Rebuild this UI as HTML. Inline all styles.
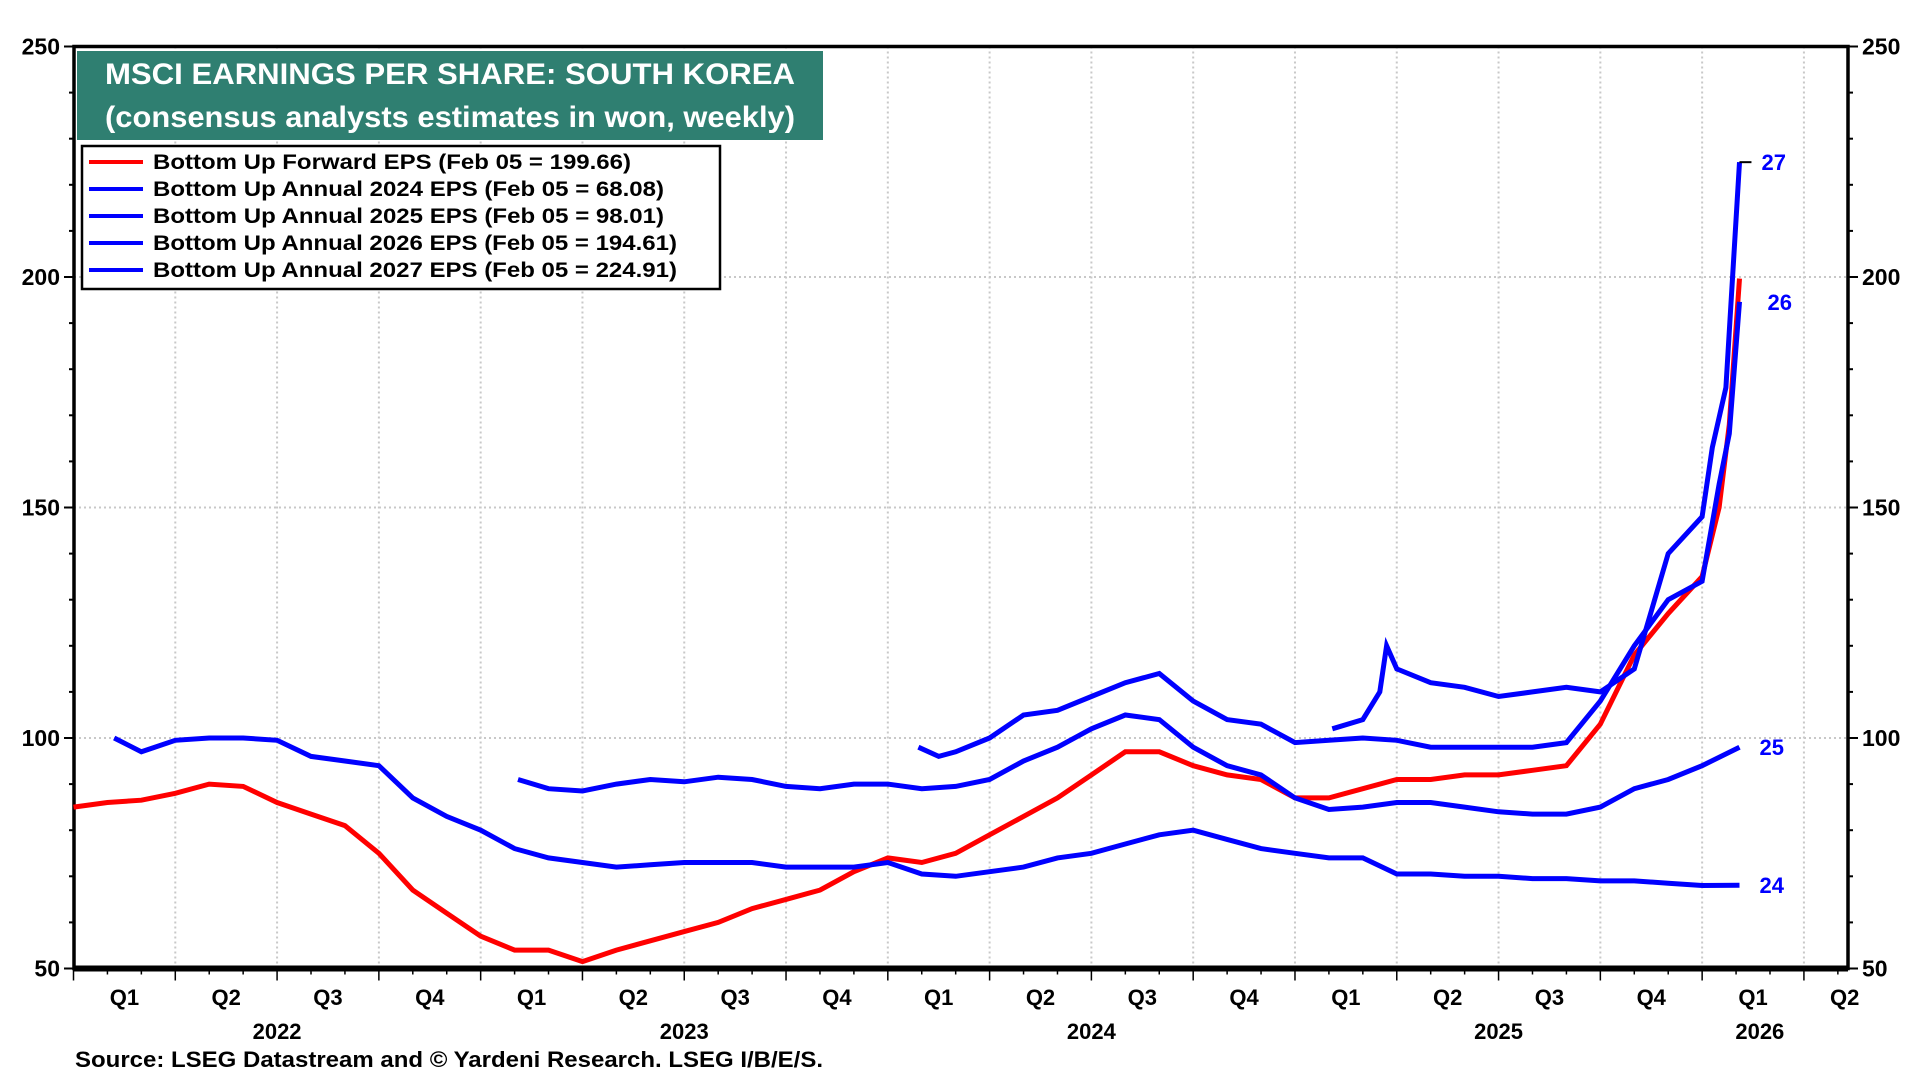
<!DOCTYPE html>
<html><head><meta charset="utf-8"><style>
html,body{margin:0;padding:0;background:#fff;width:1920px;height:1080px;overflow:hidden}
svg text{font-family:"Liberation Sans Narrow","Liberation Sans",sans-serif;font-weight:bold}
</style></head><body>
<svg id="chart" width="1920" height="1080" xmlns="http://www.w3.org/2000/svg">
<g id="grid"></g>
<g id="axes"></g>
<g id="series"></g>
<rect x="77" y="51" width="746" height="89" fill="#2f7f71"/>
<text x="450" y="84" fill="#fff" font-size="30" text-anchor="middle" textLength="690" lengthAdjust="spacingAndGlyphs">MSCI EARNINGS PER SHARE: SOUTH KOREA</text>
<text x="450" y="127" fill="#fff" font-size="30" text-anchor="middle" textLength="690" lengthAdjust="spacingAndGlyphs">(consensus analysts estimates in won, weekly)</text>
<g>
<rect x="82" y="146" width="638" height="143" fill="#fff" stroke="#000" stroke-width="2.5"/>
<g><line x1="89" y1="162" x2="143" y2="162" stroke="#f00" stroke-width="4"/><text x="153" y="169" font-size="21" textLength="478" lengthAdjust="spacingAndGlyphs">Bottom Up Forward EPS (Feb 05 = 199.66)</text></g>
<g><line x1="89" y1="189" x2="143" y2="189" stroke="#00f" stroke-width="4"/><text x="153" y="196" font-size="21" textLength="511" lengthAdjust="spacingAndGlyphs">Bottom Up Annual 2024 EPS (Feb 05 = 68.08)</text></g>
<g><line x1="89" y1="216" x2="143" y2="216" stroke="#00f" stroke-width="4"/><text x="153" y="223" font-size="21" textLength="511" lengthAdjust="spacingAndGlyphs">Bottom Up Annual 2025 EPS (Feb 05 = 98.01)</text></g>
<g><line x1="89" y1="243" x2="143" y2="243" stroke="#00f" stroke-width="4"/><text x="153" y="250" font-size="21" textLength="524" lengthAdjust="spacingAndGlyphs">Bottom Up Annual 2026 EPS (Feb 05 = 194.61)</text></g>
<g><line x1="89" y1="270" x2="143" y2="270" stroke="#00f" stroke-width="4"/><text x="153" y="277" font-size="21" textLength="524" lengthAdjust="spacingAndGlyphs">Bottom Up Annual 2027 EPS (Feb 05 = 224.91)</text></g>
</g>
<text x="75" y="1067" font-size="22" textLength="748" lengthAdjust="spacingAndGlyphs">Source: LSEG Datastream and © Yardeni Research. LSEG I/B/E/S.</text>
</svg>
<script>
// months since Jan 2022
const redM = [0,1,2,3,4,5,6,7,8,9,10,11,12,13,14,15,16,17,18,19,20,21,22,23,24,25,26,27,28,29,30,31,32,33,34,35,36,37,38,39,40,41,42,43,44,45,46,47,48,48.5,48.8,49.1];
const redV = [85,86,86.5,88,90,89.5,86,83.5,81,75,67,62,57,54,54,51.5,54,56,58,60,63,65,67,71,74,73,75,79,83,87,92,97,97,94,92,91,87,87,89,91,91,92,92,93,94,103,118,127,135,150,168,199.66];
const s24M = [1.2,2,3,4,5,6,7,8,9,10,11,12,13,14,15,16,17,18,19,20,21,22,23,24,25,26,27,28,29,30,31,32,33,34,35,36,37,38,39,40,41,42,43,44,45,46,47,48,49.1];
const s24V = [100,97,99.5,100,100,99.5,96,95,94,87,83,80,76,74,73,72,72.5,73,73,73,72,72,72,73,70.5,70,71,72,74,75,77,79,80,78,76,75,74,74,70.5,70.5,70,70,69.5,69.5,69,69,68.5,68,68.08];
const s25M = [13.1,14,15,16,17,18,19,20,21,22,23,24,25,26,27,28,29,30,31,32,33,34,35,36,37,38,39,40,41,42,43,44,45,46,47,48,49.1];
const s25V = [91,89,88.5,90,91,90.5,91.5,91,89.5,89,90,90,89,89.5,91,95,98,102,105,104,98,94,92,87,84.5,85,86,86,85,84,83.5,83.5,85,89,91,94,98.01];
const s26M = [24.9,25.5,26,27,28,29,30,31,32,33,34,35,36,37,38,39,40,41,42,43,44,45,46,47,48,48.5,48.8,49.1];
const s26V = [98,96,97,100,105,106,109,112,114,108,104,103,99,99.5,100,99.5,98,98,98,98,99,108,120,130,134,155,166,194.61];
const s27M = [37.1,38,38.5,38.7,39,40,41,42,43,44,45,46,47,48,48.3,48.7,49.1];
const s27V = [102,104,110,120,115,112,111,109,110,111,110,115,140,148,163,176,224.91];
const yTicks = [50,100,150,200,250];
const quarterLabels = ["Q1","Q2","Q3","Q4","Q1","Q2","Q3","Q4","Q1","Q2","Q3","Q4","Q1","Q2","Q3","Q4","Q1","Q2"];
const yearLabels = ["2022","2023","2024","2025","2026"];

const L=74, R=1848, T=46.5, B=968.5;
const xOf = m => 73.5 + m*33.93;
const yOf = v => T + (250-v)*(B-T)/200;
const NS="http://www.w3.org/2000/svg";
function mk(tag, parent, attrs){const e=document.createElementNS(NS,tag);for(const k in attrs)e.setAttribute(k,attrs[k]);parent.appendChild(e);return e;}
const grid=document.getElementById('grid'), axes=document.getElementById('axes'), ser=document.getElementById('series');

yTicks.forEach(v=>{ if(v>50&&v<250){const l=mk('line',grid,{x1:L,x2:R,y1:yOf(v),y2:yOf(v),stroke:'#c8c8c8','stroke-width':2,'stroke-dasharray':'2,3'});

}});
for(let q=1;q<quarterLabels.length;q++){const x=xOf(q*3); if(x<R){const l=mk('line',grid,{x1:x,x2:x,y1:T,y2:B,stroke:'#c8c8c8','stroke-width':2,'stroke-dasharray':'2,3'});

}}
for(let v=50;v<=250;v+=10){const y=yOf(v),big=v%50===0;
 mk('line',axes,{x1:L-(big?10:5),x2:L,y1:y,y2:y,stroke:'#000','stroke-width':2});
 mk('line',axes,{x1:R,x2:R+(big?10:5),y1:y,y2:y,stroke:'#000','stroke-width':2});}
yTicks.forEach(v=>{
 const a=mk('text',axes,{x:L-14,y:yOf(v)+8,'font-size':23,'text-anchor':'end'});a.textContent=v;
 
 
 const b=mk('text',axes,{x:R+14,y:yOf(v)+8,'font-size':23});b.textContent=v;
 
 
});
for(let m=0;m<=52;m++){const x=xOf(m); if(x>R)break; mk('line',axes,{x1:x,x2:x,y1:B,y2:B+(m%3===0?12:6),stroke:'#000','stroke-width':1.5});}
quarterLabels.forEach((q,i)=>{let x=xOf(i*3+1.5); if(i===quarterLabels.length-1) x=xOf(i*3+1.2);
 const t=mk('text',axes,{x:x,y:1005,'font-size':22,'text-anchor':'middle'});t.textContent=q;
 
 });
yearLabels.forEach((y,i)=>{const x=i<4?xOf(i*12+6):xOf(i*12+1.7);
 const t=mk('text',axes,{x:x,y:1039,'font-size':22,'text-anchor':'middle'});t.textContent=y;
 
 });
const fr=mk('rect',axes,{x:L,y:T,width:R-L,height:B-T,fill:'none',stroke:'#000','stroke-width':3.5});


mk('line',axes,{x1:L,x2:R,y1:B,y2:B,stroke:'#000','stroke-width':6});

function draw(ms,vs,color,name){const d=ms.map((m,i)=>(i?'L':'M')+xOf(m).toFixed(1)+','+yOf(vs[i]).toFixed(1)).join('');
 const p=mk('path',ser,{d:d,fill:'none',stroke:color,'stroke-width':5,'stroke-linejoin':'miter'});
 
 }
draw(redM,redV,'#ff0000','line-forward-eps');
draw(s24M,s24V,'#0000ff','line-2024-eps');
draw(s25M,s25V,'#0000ff','line-2025-eps');
draw(s26M,s26V,'#0000ff','line-2026-eps');
draw(s27M,s27V,'#0000ff','line-2027-eps');
mk('line',ser,{x1:xOf(49.1),x2:xOf(49.1)+12,y1:yOf(224.91),y2:yOf(224.91),stroke:'#000','stroke-width':2});
[['27',s27V,22],['26',s26V,28],['25',s25V,20],['24',s24V,20]].forEach(([lab,arr,dx])=>{
 const t=mk('text',ser,{x:xOf(49.1)+dx,y:yOf(arr[arr.length-1])+8,'font-size':22,fill:'#0000ff'});t.textContent=lab;
 
 });
</script>
</body></html>
